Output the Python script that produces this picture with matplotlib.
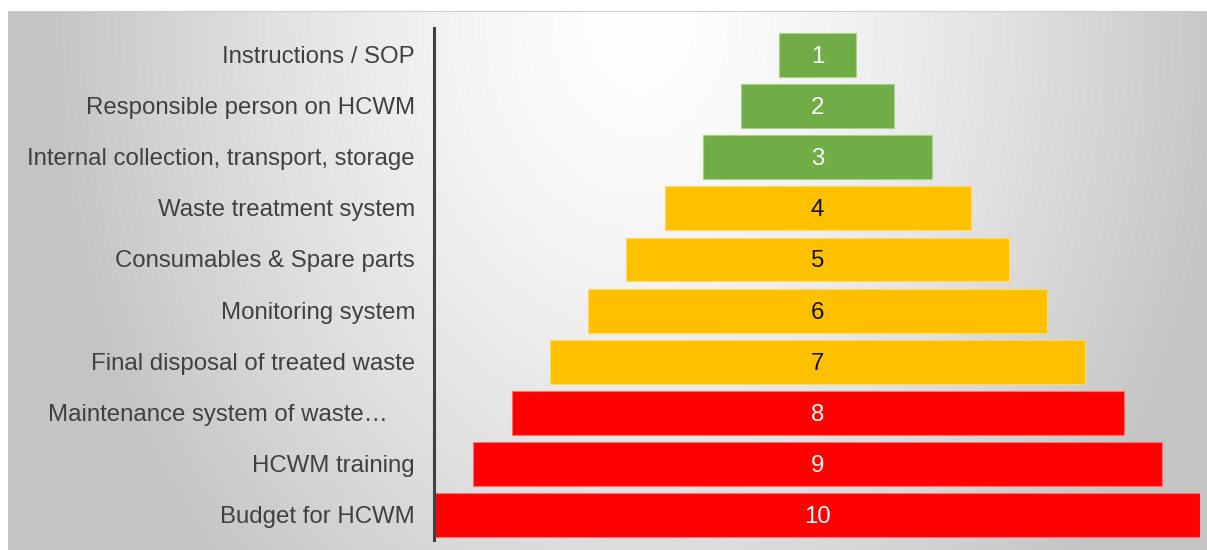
import numpy as np
import matplotlib
matplotlib.use("Agg")
import matplotlib.pyplot as plt
import matplotlib.transforms as mtransforms

# data
labels = [
    "Instructions / SOP",
    "Responsible person on HCWM",
    "Internal collection, transport, storage",
    "Waste treatment system",
    "Consumables & Spare parts",
    "Monitoring system",
    "Final disposal of treated waste",
    "Maintenance system of waste\u2026",
    "HCWM training",
    "Budget for HCWM",
]
ranks = [1, 2, 3, 4, 5, 6, 7, 8, 9, 10]
groups = ["green"] * 3 + ["yellow"] * 4 + ["red"] * 3

fill = {"green": "#70AD47", "yellow": "#FFC000", "red": "#FF0000"}
edge = {"green": "#A9D18E", "yellow": "#FFD966", "red": "#FF7070"}
num_color = {"green": "white", "yellow": "#111111", "red": "white"}

plt.rcParams['font.family'] = ['Liberation Sans', 'DejaVu Sans']

W, H = 1207, 550
fig = plt.figure(figsize=(W / 100, H / 100), dpi=100)
fig.patch.set_facecolor("white")

# gradient background panel
x0, ytop = 8, 11
bg = fig.add_axes([x0 / W, 0, 1 - x0 / W, (H - ytop) / H])
xx, yy = np.meshgrid(np.arange(x0, W), np.arange(ytop, H))
d = np.sqrt(((xx - 640) / 600.0) ** 2 + ((yy - 20) / 800.0) ** 2)
g = 255 - 60 * np.clip(d, 0, 1.0) ** 1.4
g = np.clip(g, 196, 255) / 255.0
bg.imshow(np.dstack([g, g, g]), aspect="auto", interpolation="bilinear")
bg.axhline(-0.5, color="#c8c8c8", lw=1.2)
bg.set_axis_off()

# main chart
ax = fig.add_axes([435 / W, 10 / H, 765 / W, 512 / H])
ax.patch.set_alpha(0)
down = mtransforms.ScaledTranslation(0, -2 / 100, fig.dpi_scale_trans)
y = np.arange(len(ranks))
for i, r in enumerate(ranks):
    grp = groups[i]
    ax.barh(y[i], r, left=5 - r / 2, height=0.86,
            color=fill[grp], edgecolor=edge[grp], linewidth=0.8)
    ax.text(5, y[i], str(r), ha="center", va="center",
            fontsize=17.3, color=num_color[grp],
            transform=ax.transData + down)

trans = mtransforms.blended_transform_factory(ax.transAxes, ax.transData)
for i, lab in enumerate(labels):
    xpos = -0.0614 if lab.startswith("Maintenance") else -0.026
    ax.text(xpos, y[i], lab, ha="right", va="center", fontsize=17.3,
            color="#404040", transform=trans + down)

ax.set_xlim(0, 10)
ax.set_ylim(9.49, -0.53)
ax.set_xticks([])
ax.set_yticks([])
for s in ["top", "right", "bottom"]:
    ax.spines[s].set_visible(False)
ax.spines["left"].set_color("#404040")
ax.spines["left"].set_linewidth(2.2)
ax.spines["left"].set_position(("outward", 1))

fig.savefig("out.png", dpi=100)
